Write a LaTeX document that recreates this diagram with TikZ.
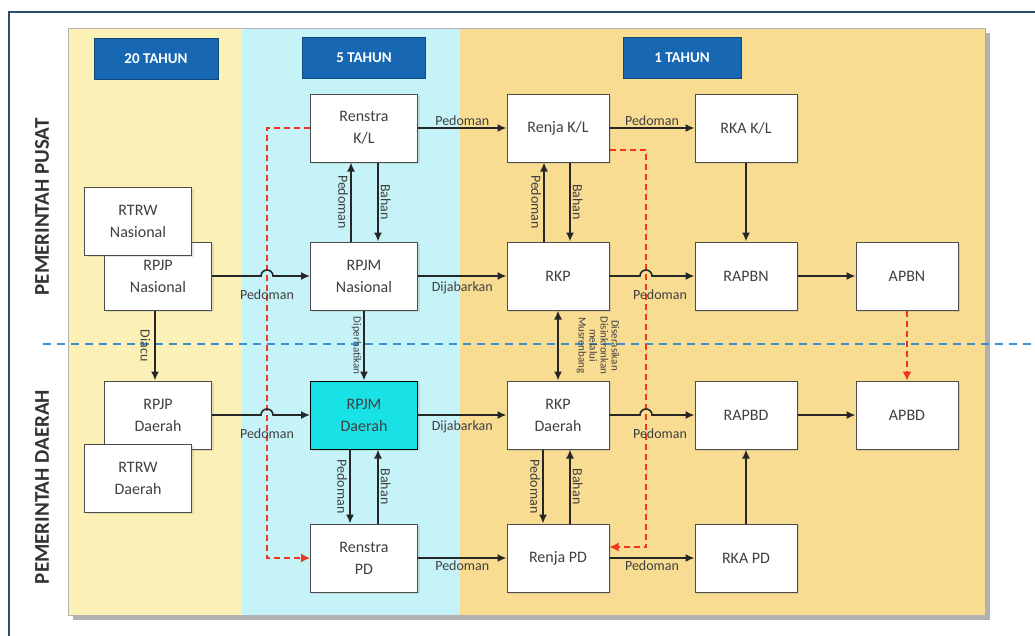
\documentclass[tikz,border=0pt]{standalone}
\usepackage{fontspec}
\setmainfont{Carlito}
\usetikzlibrary{arrows.meta,positioning,shadows}

\definecolor{panelyel}{HTML}{FBF1B7}
\definecolor{panelcyan}{HTML}{C6F3F7}
\definecolor{panelgold}{HTML}{F8DC92}
\definecolor{headblue}{HTML}{1767B3}
\definecolor{framenavy}{HTML}{2D4B6E}
\definecolor{rpjmcyan}{HTML}{18E2E6}
\definecolor{sepblue}{HTML}{3C8FD0}
\definecolor{linkred}{HTML}{F2361E}
\definecolor{inkgray}{HTML}{404040}

\begin{document}
\begin{tikzpicture}[
  x=1pt, y=-1pt,
  node distance=12pt,
  box/.style={draw=black!70, line width=1pt, fill=white, align=center, text=inkgray, font=\fontsize{16}{22}\selectfont, minimum width=102pt, minimum height=68pt, inner sep=2pt, drop shadow={opacity=0.2, shadow xshift=2pt, shadow yshift=-2pt}},
  widebox/.style={box, minimum width=107pt},
  head/.style={fill=headblue, draw=headblue!70!black, text=white, font=\bfseries\fontsize{15}{17}\selectfont, minimum height=41pt},
  rowlbl/.style={rotate=90, text=black!80, font=\bfseries\fontsize{21}{24}\selectfont},
  lbl/.style={text=inkgray, font=\fontsize{14}{15}\selectfont, inner sep=2pt},
  arr/.style={-{Latex[length=9pt, width=8pt]}, line width=1.6pt, black!85},
  redarr/.style={-{Latex[length=9pt, width=9pt]}, line width=1.4pt, linkred, dash pattern=on 6pt off 4pt}
]
\useasboundingbox (0,0) rectangle (1035,635);

% frame and background bands
\draw[framenavy, line width=2.5pt, fill=white] (9,12) rectangle (1050,650);
\fill[black!30] (73,33) rectangle (990,620);
\fill[panelyel] (68,28) rectangle (242,615);
\fill[panelcyan] (242,28) rectangle (460,615);
\fill[panelgold] (460,28) rectangle (985,615);
\draw[black!30] (68,28) rectangle (985,615);

% headers
\node[head, minimum width=124pt] (h20) at (156,59) {20 TAHUN};
\node[head, minimum width=123pt] (h5) at (364,58) {5 TAHUN};
\node[head, minimum width=118pt] (h1) at (682,58) {1 TAHUN};

\node[rowlbl] (pusat) at (42,207) {PEMERINTAH PUSAT};
\node[rowlbl] (daerah) at (42,487) {PEMERINTAH DAERAH};

% separator
\draw[sepblue, line width=2pt, dash pattern=on 8pt off 6pt] (43,344) -- (1032,344);

% boxes, pusat
\node[widebox] (rpjpn) at (158,276) {RPJP\\Nasional};
\node[widebox] (rtrwn) at (138,221) {RTRW\\Nasional};
\node[widebox] (renstrakl) at (364,128) {Renstra\\K/L};
\node[widebox] (rpjmn) at (364,276) {RPJM\\Nasional};
\node[box] (renjakl) at (558,128) {Renja K/L};
\node[box] (rkakl) at (746,128) {RKA K/L};
\node[box] (rkp) at (558,276) {RKP};
\node[box] (rapbn) at (746,276) {RAPBN};
\node[box] (apbn) at (907,276) {APBN};

% boxes, daerah
\node[widebox] (rpjpd) at (158,415) {RPJP\\Daerah};
\node[widebox] (rtrwd) at (138,478) {RTRW\\Daerah};
\node[widebox, fill=rpjmcyan, draw=black] (rpjmd) at (364,415) {RPJM\\Daerah};
\node[widebox] (renstrapd) at (364,558) {Renstra\\PD};
\node[box] (rkpd) at (558,415) {RKP\\Daerah};
\node[box] (rapbd) at (746,415) {RAPBD};
\node[box] (apbd) at (907,415) {APBD};
\node[box] (renjapd) at (558,558) {Renja PD};
\node[box] (rkapd) at (746,558) {RKA PD};

% red dashed links
\coordinate (rd1) at (267,300);
\coordinate (rd2) at (646,300);
\draw[redarr] (renstrakl.west) -| (rd1) |- (renstrapd.west);
\draw[redarr] ([yshift=-22pt]renjakl.east) -| (rd2) |- ([yshift=11pt]renjapd.east);
\draw[redarr] (apbn.south) -- (apbd.north);

% hops over the red lines
\coordinate (hop1) at (rd1 |- rpjpn.east);
\coordinate (hop2) at (rd2 |- rkp.east);
\coordinate (hop3) at (rd1 |- rpjpd.east);
\coordinate (hop4) at (rd2 |- rkpd.east);
\draw[arr] (rpjpn) -- ([xshift=-6pt]hop1) arc[start angle=180, end angle=0, radius=6pt] -- (rpjmn);
\draw[arr] (rkp) -- ([xshift=-6pt]hop2) arc[start angle=180, end angle=0, radius=6pt] -- (rapbn);
\draw[arr] (rpjpd) -- ([xshift=-6pt]hop3) arc[start angle=180, end angle=0, radius=6pt] -- (rpjmd);
\draw[arr] (rkpd) -- ([xshift=-6pt]hop4) arc[start angle=180, end angle=0, radius=6pt] -- (rapbd);
\node[lbl, below=of hop1] (pd1) {Pedoman};
\node[lbl, below=of hop2, xshift=14pt] (pd2) {Pedoman};
\node[lbl, below=of hop3] (pd3) {Pedoman};
\node[lbl, below=of hop4, xshift=14pt] (pd4) {Pedoman};

% horizontal links
\draw[arr] (renstrakl) -- node[lbl, above] {Pedoman} (renjakl);
\draw[arr] (renjakl) -- node[lbl, above] {Pedoman} (rkakl);
\draw[arr] (rpjmn) -- node[lbl, below=3pt] {Dijabarkan} (rkp);
\draw[arr] (rapbn) -- (apbn);
\draw[arr] (rpjmd) -- node[lbl, below=3pt] {Dijabarkan} (rkpd);
\draw[arr] (rapbd) -- (apbd);
\draw[arr] (renstrapd) -- node[lbl, below] {Pedoman} (renjapd);
\draw[arr] (renjapd) -- node[lbl, below] {Pedoman} (rkapd);

% vertical links
\draw[arr] ([xshift=-13pt]rpjmn.north) -- node[lbl, rotate=-90, anchor=north] {Pedoman} ([xshift=-13pt]renstrakl.south);
\draw[arr] ([xshift=14pt]renstrakl.south) -- node[lbl, rotate=-90, anchor=south] {Bahan} ([xshift=14pt]rpjmn.north);
\draw[arr] ([xshift=-14pt]rkp.north) -- node[lbl, rotate=-90, anchor=north] {Pedoman} ([xshift=-14pt]renjakl.south);
\draw[arr] ([xshift=12pt]renjakl.south) -- node[lbl, rotate=-90, anchor=south] {Bahan} ([xshift=12pt]rkp.north);
\draw[arr] ([xshift=-3pt]rpjpn.south) -- node[lbl, rotate=-90, anchor=north, inner ysep=4pt] {Diacu} ([xshift=-3pt]rpjpd.north);
\draw[arr] (rpjmn) -- node[lbl, rotate=-90, anchor=north, font=\fontsize{11}{12}\selectfont] {Diperhatikan} (rpjmd);
\draw[arr, {Latex[length=9pt, width=8pt]}-{Latex[length=9pt, width=8pt]}] (rkp) -- node[lbl, rotate=-90, anchor=south, align=center, inner ysep=18pt, font=\fontsize{11}{11}\selectfont] {Diserasikan\\Disinkronkan\\melalui\\Musrenbang} (rkpd);
\draw[arr] (rkakl) -- (rapbn);
\draw[arr] ([xshift=-14pt]rpjmd.south) -- node[lbl, rotate=-90, anchor=north] {Pedoman} ([xshift=-14pt]renstrapd.north);
\draw[arr] ([xshift=14pt]renstrapd.north) -- node[lbl, rotate=-90, anchor=south] {Bahan} ([xshift=14pt]rpjmd.south);
\draw[arr] ([xshift=-15pt]rkpd.south) -- node[lbl, rotate=-90, anchor=north] {Pedoman} ([xshift=-15pt]renjapd.north);
\draw[arr] ([xshift=12pt]renjapd.north) -- node[lbl, rotate=-90, anchor=south] {Bahan} ([xshift=12pt]rkpd.south);
\draw[arr] (rkapd) -- (rapbd);
\end{tikzpicture}
\end{document}
